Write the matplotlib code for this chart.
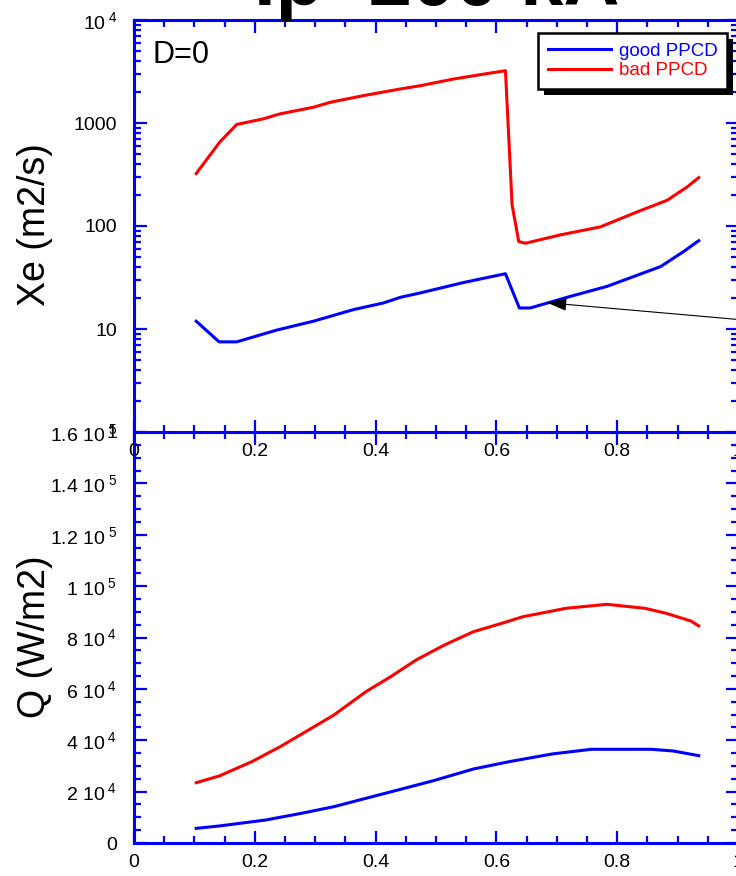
import numpy as np
import matplotlib
matplotlib.use("Agg")
import matplotlib.pyplot as plt
from matplotlib.patches import Rectangle
from matplotlib.transforms import IdentityTransform
from matplotlib.ticker import MultipleLocator, LogLocator, NullFormatter

plt.rcParams['font.family'] = ['Liberation Sans', 'DejaVu Sans']
plt.rcParams['mathtext.fontset'] = 'custom'
plt.rcParams['mathtext.rm'] = 'Liberation Sans'
plt.rcParams['mathtext.it'] = 'Liberation Sans:italic'
plt.rcParams['mathtext.bf'] = 'Liberation Sans:bold'

BLUE = '#0000ff'
RED = '#ff0000'

# --- Xe (m2/s), top panel, log scale ---
r_bad_xe = [0.103, 0.142, 0.170, 0.214, 0.242, 0.297, 0.325, 0.380, 0.441, 0.474,
            0.496, 0.529, 0.590, 0.615, 0.626, 0.637, 0.648, 0.706, 0.772, 0.833,
            0.883, 0.916, 0.935]
xe_bad = [323, 653, 968, 1097, 1227, 1422, 1589, 1845, 2140, 2302,
          2445, 2673, 3055, 3215, 160, 70.6, 68, 82, 98, 137,
          178, 240, 295]

r_good_xe = [0.103, 0.141, 0.170, 0.236, 0.297, 0.363, 0.413, 0.441, 0.474, 0.546,
             0.615, 0.638, 0.656, 0.722, 0.783, 0.872, 0.910, 0.935]
xe_good = [11.9, 7.5, 7.5, 9.75, 11.9, 15.4, 17.9, 20.3, 22.4, 28.3,
           34.4, 16.0, 16.0, 20.7, 25.9, 40.4, 56.5, 72]

# --- Q (W/m2), bottom panel ---
r_bad_q = [0.103, 0.141, 0.195, 0.242, 0.289, 0.331, 0.384, 0.425, 0.467, 0.514,
           0.562, 0.609, 0.644, 0.715, 0.783, 0.846, 0.881, 0.922, 0.935]
q_bad = [23480, 26080, 31650, 37490, 43990, 49830, 58910, 64740, 71240, 77080,
         82260, 85530, 88100, 91360, 92920, 91360, 89420, 86420, 84500]

r_good_q = [0.103, 0.141, 0.218, 0.277, 0.331, 0.384, 0.437, 0.496, 0.562, 0.621,
            0.692, 0.757, 0.857, 0.893, 0.935]
q_good = [5710, 6620, 8950, 11550, 14140, 17400, 20630, 24270, 28810, 31650,
          34650, 36480, 36480, 35810, 34000]

x_ticks = [0, 0.2, 0.4, 0.6, 0.8, 1.0]
x_labels = ['0', '0.2', '0.4', '0.6', '0.8', '1']
xe_ticks = [1, 10, 100, 1000, 1e4]
xe_labels = ['1', '10', '100', '1000', r'10$^{\ 4}$']
q_ticks = [0, 2e4, 4e4, 6e4, 8e4, 1e5, 1.2e5, 1.4e5, 1.6e5]
q_labels = ['0', r'2 10$^{\ 4}$', r'4 10$^{\ 4}$', r'6 10$^{\ 4}$', r'8 10$^{\ 4}$',
            r'1 10$^{\ 5}$', r'1.2 10$^{\ 5}$', r'1.4 10$^{\ 5}$', r'1.6 10$^{\ 5}$']

W, H = 736, 876
fig = plt.figure(figsize=(W / 100, H / 100), dpi=100)

left = 134 / W
width = (738 - 134) / W
mid = 1 - 432 / H
ax1 = fig.add_axes([left, mid, width, (432 - 20) / H])
ax2 = fig.add_axes([left, 1 - 843 / H, width, (843 - 432) / H])
ax1.set_zorder(3)


def style_axes(ax):
    for s in ax.spines.values():
        s.set_color(BLUE)
        s.set_linewidth(2.2)
    ax.tick_params(which='both', direction='in', color=BLUE, top=True, right=True,
                   labelsize=14, width=1.6, pad=8)
    ax.tick_params(which='major', length=9)
    ax.tick_params(which='minor', length=5)
    ax.tick_params(axis='y', pad=12)
    ax.set_xlim(0, 1)
    ax.set_xticks(x_ticks, x_labels)
    ax.xaxis.set_minor_locator(MultipleLocator(0.05))


# top panel
ax1.plot(r_good_xe, xe_good, color=BLUE, lw=2.2, label='good PPCD')
ax1.plot(r_bad_xe, xe_bad, color=RED, lw=2.2, label='bad PPCD')
ax1.set_yscale('log')
ax1.set_ylim(1, 1e4)
style_axes(ax1)
ax1.set_yticks(xe_ticks, xe_labels)
ax1.yaxis.set_minor_locator(LogLocator(base=10, subs=np.arange(2, 10)))
ax1.yaxis.set_minor_formatter(NullFormatter())

ax1.text(0.031, 0.915, 'D=0', transform=ax1.transAxes, fontsize=22,
         ha='left', va='center')

ax1.annotate('', xy=(0.684, 18.0), xytext=(1.04, 11.8),
             arrowprops=dict(arrowstyle='-|>,head_length=0.6,head_width=0.2',
                             color='k', lw=0.8, mutation_scale=20,
                             shrinkA=0, shrinkB=0),
             annotation_clip=False)

leg = ax1.legend(loc='upper right', bbox_to_anchor=(727 / W, 1 - 33 / H),
                 bbox_transform=fig.transFigure, borderaxespad=0,
                 fontsize=13.5, handlelength=3.4, handletextpad=0.4,
                 labelspacing=0.15, borderpad=0.5, fancybox=False,
                 framealpha=1, edgecolor='k', labelcolor='linecolor')
leg.get_frame().set_linewidth(1.8)

# bottom panel
ax2.plot(r_good_q, q_good, color=BLUE, lw=2.2)
ax2.plot(r_bad_q, q_bad, color=RED, lw=2.2)
ax2.set_ylim(0, 1.6e5)
style_axes(ax2)
ax2.set_yticks(q_ticks, q_labels)
ax2.yaxis.set_minor_locator(MultipleLocator(5000))

fig.text(35 / W, 1 - 225 / H, 'Xe (m2/s)', rotation=90, fontsize=27,
         ha='center', va='center')
fig.text(35 / W, 1 - 637 / H, 'Q (W/m2)', rotation=90, fontsize=27,
         ha='center', va='center')
fig.text(437 / W, 1 - 5 / H, 'Ip=200 kA', fontsize=56, fontweight='bold',
         ha='center', va='baseline')

# black drop shadow behind the legend box
fig.canvas.draw()
bb = leg.get_window_extent()
shadow = Rectangle((bb.x0 + 6, bb.y0 - 6), bb.width, bb.height,
                   transform=IdentityTransform(), facecolor='k', edgecolor='none',
                   zorder=leg.get_zorder() - 0.5)
ax1.add_patch(shadow)

fig.savefig('out.png', dpi=100)
